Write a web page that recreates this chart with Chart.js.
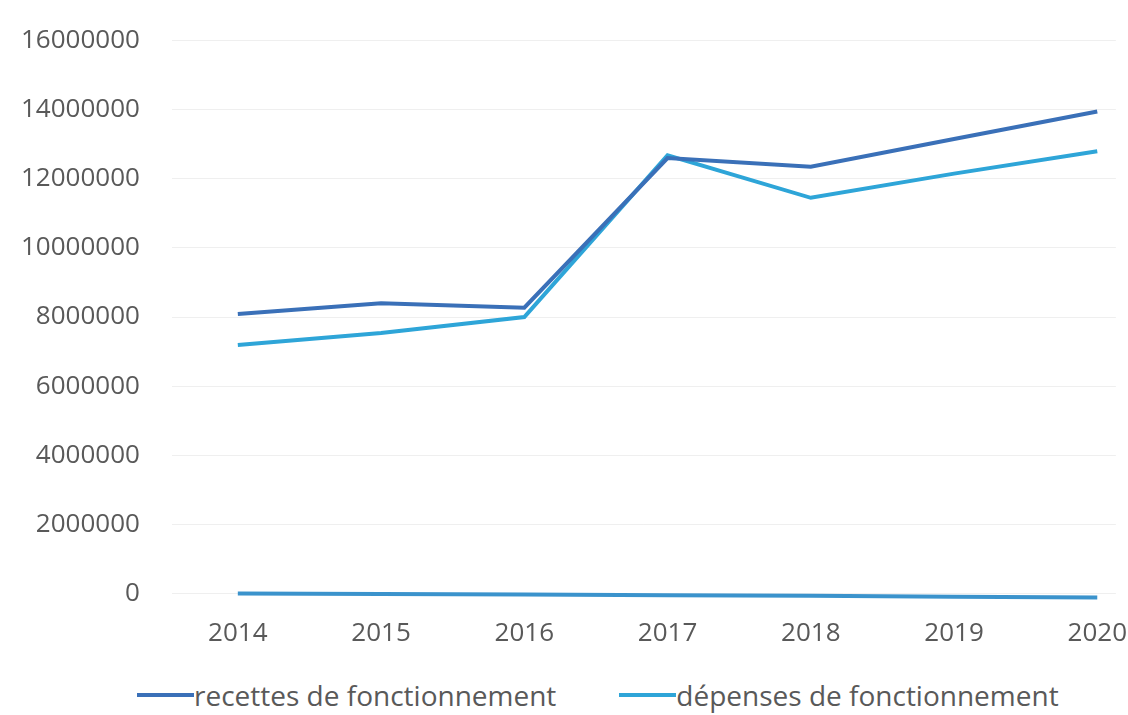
<!DOCTYPE html>
<html>
<head>
<meta charset="utf-8">
<script src="https://cdn.jsdelivr.net/npm/chart.js@4/dist/chart.umd.min.js"></script>
<style>
    body { margin: 0; background: #fff; }
    #wrap { position: relative; width: 1128px; height: 715px; font-family: 'Open Sans', sans-serif; overflow: hidden; }
    #box { position: absolute; left: 0; top: -7px; width: 1141px; height: 682px; }
    #legend { position: absolute; left: 137px; top: 675px; display: flex; gap: 63px; font-size: 28px; line-height: 40px; color: #595959; }
    .item { display: flex; align-items: center; }
    .mark { display: inline-block; width: 57px; height: 4px; margin-right: 0; }
</style>
</head>
<body>
<div id="wrap">
    <div id="box"><canvas id="fonctionnementChart"></canvas></div>
    <div id="legend"></div>
</div>
<script>
const annees = [2014, 2015, 2016, 2017, 2018, 2019, 2020];
const recettes = [8090000, 8400000, 8270000, 12600000, 12350000, 13150000, 13950000];
const depenses = [7190000, 7540000, 8000000, 12680000, 11450000, 12150000, 12800000];
const serie3 = [0, -15000, -30000, -50000, -70000, -95000, -120000];
const yTicks = [0, 2000000, 4000000, 6000000, 8000000, 10000000, 12000000, 14000000, 16000000];

const couleurs = { recettes: '#3a70b8', depenses: '#2ea5d8', serie3: '#3b93cc' };

document.addEventListener('DOMContentLoaded', function() {
    const canvas = document.getElementById('fonctionnementChart');
    const ctx = canvas.getContext('2d');

    const points = function(vals) {
        return annees.map((a, i) => ({ x: a, y: vals[i] }));
    };

    const datasets = [
        {
            label: 'recettes de fonctionnement',
            data: points(recettes),
            borderColor: couleurs.recettes,
            backgroundColor: couleurs.recettes,
            borderWidth: 4,
            pointRadius: 0,
            tension: 0
        },
        {
            label: 'dépenses de fonctionnement',
            data: points(depenses),
            borderColor: couleurs.depenses,
            backgroundColor: couleurs.depenses,
            borderWidth: 4,
            pointRadius: 0,
            tension: 0
        },
        {
            label: 'série 3',
            data: points(serie3),
            borderColor: couleurs.serie3,
            backgroundColor: couleurs.serie3,
            borderWidth: 4,
            pointRadius: 0,
            tension: 0,
            clip: false
        }
    ];

    new Chart(ctx, {
        type: 'line',
        data: { datasets: datasets },
        options: {
            responsive: true,
            maintainAspectRatio: false,
            animation: false,
            layout: { padding: { top: 20, left: -11, right: 0, bottom: 12 } },
            plugins: {
                legend: { display: false },
                tooltip: { enabled: false }
            },
            scales: {
                x: {
                    type: 'linear',
                    min: 2013.54,
                    max: 2020.13,
                    afterBuildTicks: function(scale) {
                        scale.ticks = annees.map(a => ({ value: a }));
                    },
                    grid: { display: false, drawTicks: false },
                    border: { display: false },
                    ticks: {
                        padding: 14,
                        color: '#595959',
                        font: { family: 'Open Sans', size: 26 },
                        callback: v => String(v),
                        maxRotation: 0
                    }
                },
                y: {
                    min: -300000,
                    max: 16000000,
                    afterBuildTicks: function(scale) {
                        scale.ticks = yTicks.map(v => ({ value: v }));
                    },
                    grid: { color: '#efefef', lineWidth: 1, drawTicks: false },
                    border: { display: false },
                    ticks: {
                        padding: 32,
                        color: '#595959',
                        font: { family: 'Open Sans', size: 26 },
                        callback: v => String(v)
                    }
                }
            }
        }
    });

    // légende HTML (seulement les deux séries nommées)
    const legend = document.getElementById('legend');
    datasets.slice(0, 2).forEach(function(ds) {
        const item = document.createElement('div');
        item.className = 'item';
        const mark = document.createElement('span');
        mark.className = 'mark';
        mark.style.background = ds.borderColor;
        item.appendChild(mark);
        item.appendChild(document.createTextNode(ds.label));
        legend.appendChild(item);
    });
});
</script>
</body>
</html>
